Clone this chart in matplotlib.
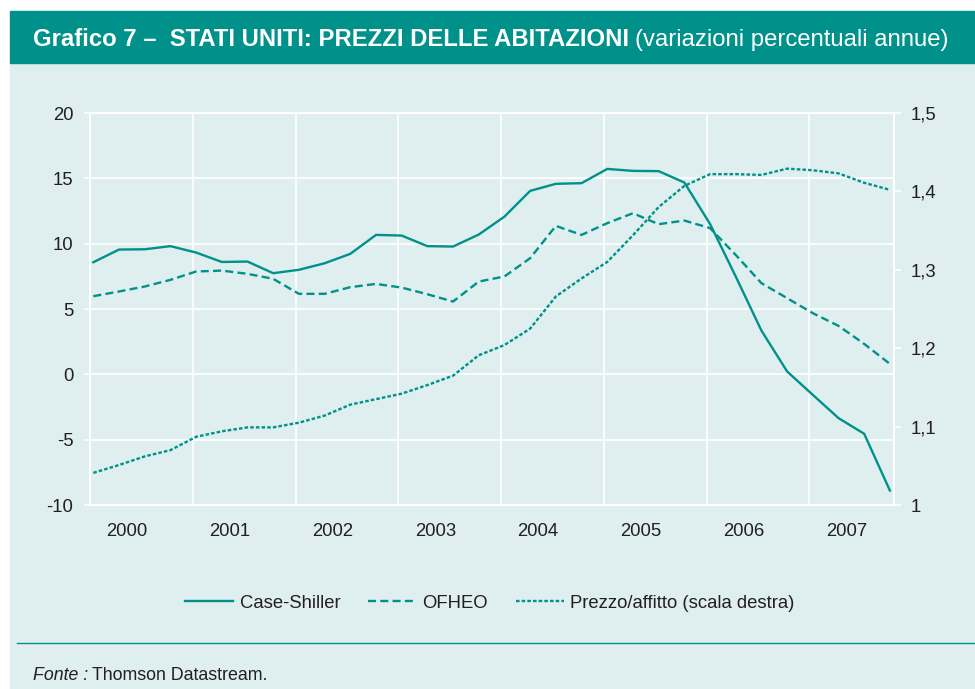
import matplotlib

matplotlib.use("Agg")

import matplotlib.pyplot as plt  # noqa: E402
from matplotlib.patches import Rectangle  # noqa: E402
from matplotlib.lines import Line2D  # noqa: E402

plt.rcParams["font.family"] = ["Liberation Sans", "DejaVu Sans"]

TEAL = "#00918b"
BG = "#dfeeee"
TXT = "#231f20"

# quarterly observations 2000 Q1 - 2007 Q4
quarters = list(range(32))
case_shiller = [8.58, 9.55, 9.57, 9.81, 9.32, 8.60, 8.63, 7.74, 8.00, 8.50,
                9.22, 10.67, 10.62, 9.81, 9.78, 10.70, 12.07, 14.04, 14.58, 14.63,
                15.72, 15.57, 15.55, 14.68, 11.51, 7.49, 3.35, 0.22, -1.57, -3.35,
                -4.55, -8.89]
ofheo = [5.98, 6.34, 6.72, 7.23, 7.87, 7.94, 7.69, 7.31, 6.16, 6.16,
         6.67, 6.92, 6.64, 6.13, 5.57, 7.10, 7.49, 8.89, 11.36, 10.67,
         11.57, 12.33, 11.49, 11.77, 11.19, 9.14, 6.98, 5.83, 4.68, 3.71,
         2.33, 0.80]
prezzo_affitto = [1.041, 1.051, 1.062, 1.070, 1.087, 1.094, 1.099, 1.099, 1.105, 1.114,
                  1.128, 1.135, 1.142, 1.153, 1.165, 1.191, 1.204, 1.225, 1.266, 1.289,
                  1.310, 1.344, 1.380, 1.407, 1.422, 1.422, 1.421, 1.429, 1.427, 1.423,
                  1.411, 1.402]
years = ["2000", "2001", "2002", "2003", "2004", "2005", "2006", "2007"]
left_ticks = [-10, -5, 0, 5, 10, 15, 20]
right_ticks = [1.0, 1.1, 1.2, 1.3, 1.4, 1.5]
right_labels = ["1", "1,1", "1,2", "1,3", "1,4", "1,5"]

W, H = 975, 689
fig = plt.figure(figsize=(W / 100, H / 100), dpi=100, facecolor="white")

# background panels
fig.patches.append(Rectangle((10 / W, 0), 1 - 10 / W, 1 - 63 / H,
                             transform=fig.transFigure, color=BG, zorder=-2))
fig.patches.append(Rectangle((10 / W, 1 - 63 / H), 1 - 10 / W, 52 / H,
                             transform=fig.transFigure, color=TEAL, zorder=-1))

ax = fig.add_axes([90 / W, 1 - 505 / H, (894 - 90) / W, (505 - 113) / H])
ax.set_facecolor(BG)
ax2 = ax.twinx()

lw = 1.7
DASH = (3.4, 1.8)
DOT = (1.5, 0.9)
ax.plot(quarters, case_shiller, color=TEAL, lw=lw, zorder=3)
ax.plot(quarters, ofheo, color=TEAL, lw=lw, dashes=DASH, zorder=3)
ax2.plot(quarters, prezzo_affitto, color=TEAL, lw=lw, dashes=DOT, zorder=3)

x0 = -0.13
ax.set_xlim(x0, 31.16)
ax.set_ylim(-10, 20)
ax2.set_ylim(1.0, 1.5)

ax.set_yticks(left_ticks)
ax.set_yticklabels([str(t) for t in left_ticks])
ax2.set_yticks(right_ticks)
ax2.set_yticklabels(right_labels)

FS = 13.3
ax.set_xticks([x0 + 4 * k for k in range(1, 8)])
ax.set_xticklabels([])
ax.set_xticks([1.31 + 4 * k for k in range(8)], minor=True)
ax.set_xticklabels(years, minor=True)
ax.tick_params(axis="x", which="both", length=0, pad=13, labelsize=FS, labelcolor=TXT)
ax.tick_params(axis="y", length=4, width=1.2, color="white", labelsize=FS,
               labelcolor=TXT, pad=8)
ax2.tick_params(axis="y", length=5, width=1.2, color="white", labelsize=FS,
                labelcolor=TXT, pad=7)

ax.grid(True, which="major", color="white", lw=1.2)
ax.set_axisbelow(True)
for a in (ax, ax2):
    for s in a.spines.values():
        s.set_color("white")
        s.set_linewidth(1.2)

# legend
handles = [
    Line2D([], [], color=TEAL, lw=lw),
    Line2D([], [], color=TEAL, lw=lw, dashes=DASH),
    Line2D([], [], color=TEAL, lw=lw, dashes=DOT),
]
labels = ["Case-Shiller", "OFHEO", "Prezzo/affitto (scala destra)"]
fig.legend(handles, labels, loc="center", bbox_to_anchor=(490 / W, 1 - 603 / H),
           ncol=3, frameon=False, fontsize=FS, handlelength=2.6,
           handletextpad=0.35, columnspacing=1.5, labelcolor=TXT)

# rule above source
fig.add_artist(Line2D([17 / W, 1], [1 - 643 / H, 1 - 643 / H], color=TEAL, lw=1.0,
                      transform=fig.transFigure))

# title
t1 = fig.text(33 / W, 1 - 40 / H, "Grafico 7 –  STATI UNITI: PREZZI DELLE ABITAZIONI",
              color="white", fontsize=17.2, fontweight="bold", va="center", ha="left")
fig.canvas.draw()
r = fig.canvas.get_renderer()
bb = t1.get_window_extent(r)
fig.text(bb.x1 / W + 6 / W, 1 - 40 / H, "(variazioni percentuali annue)",
         color="white", fontsize=17.2, va="center", ha="left")

# source
f1 = fig.text(33 / W, 1 - 676 / H, "Fonte :", style="italic", color=TXT,
              fontsize=12.8, va="center", ha="left")
fig.canvas.draw()
bb = f1.get_window_extent(r)
fig.text(bb.x1 / W + 4 / W, 1 - 676 / H, "Thomson Datastream.", color=TXT,
         fontsize=12.8, va="center", ha="left")

fig.savefig("out.png", dpi=100, facecolor=fig.get_facecolor())
plt.close(fig)
